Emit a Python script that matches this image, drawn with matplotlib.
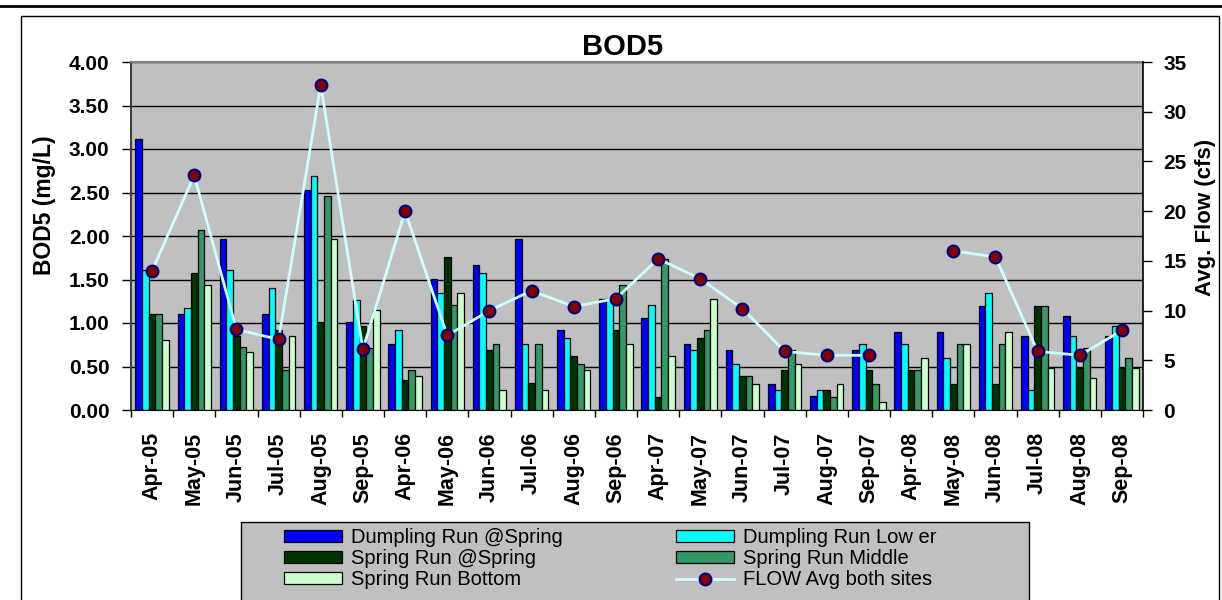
import numpy as np
import matplotlib
matplotlib.use("Agg")
import matplotlib.pyplot as plt
from matplotlib.lines import Line2D
from matplotlib.patches import Rectangle
from matplotlib.ticker import FixedLocator, FuncFormatter

plt.rcParams['font.family'] = ['Liberation Sans', 'DejaVu Sans']

months = ["Apr-05", "May-05", "Jun-05", "Jul-05", "Aug-05", "Sep-05",
          "Apr-06", "May-06", "Jun-06", "Jul-06", "Aug-06", "Sep-06",
          "Apr-07", "May-07", "Jun-07", "Jul-07", "Aug-07", "Sep-07",
          "Apr-08", "May-08", "Jun-08", "Jul-08", "Aug-08", "Sep-08"]

dumpling_spring = [3.12, 1.10, 1.97, 1.10, 2.53, 1.01, 0.76, 1.51, 1.67, 1.97, 0.92, 1.28,
                   1.06, 0.76, 0.69, 0.30, 0.16, 0.69, 0.90, 0.90, 1.19, 0.85, 1.08, 0.85]
dumpling_lower = [1.61, 1.17, 1.61, 1.40, 2.69, 1.26, 0.92, 1.35, 1.58, 0.76, 0.83, 1.28,
                  1.21, 0.69, 0.53, 0.23, 0.23, 0.76, 0.76, 0.60, 1.35, 0.23, 0.85, 0.96]
spring_spring = [1.10, 1.58, 0.85, 0.92, 1.01, 0.96, 0.34, 1.76, 0.69, 0.31, 0.62, 0.92,
                 0.15, 0.83, 0.39, 0.46, 0.23, 0.46, 0.46, 0.30, 0.30, 1.19, 0.48, 0.48]
spring_middle = [1.10, 2.07, 0.72, 0.46, 2.46, 0.71, 0.46, 1.21, 0.76, 0.76, 0.53, 1.44,
                 1.73, 0.92, 0.39, 0.69, 0.15, 0.30, 0.46, 0.76, 0.76, 1.19, 0.71, 0.60]
spring_bottom = [0.80, 1.44, 0.67, 0.85, 1.97, 1.15, 0.39, 1.35, 0.23, 0.23, 0.46, 0.76,
                 0.62, 1.28, 0.30, 0.53, 0.30, 0.09, 0.60, 0.76, 0.90, 0.48, 0.37, 0.48]
flow_avg = [14.0, 23.6, 8.1, 7.1, 32.7, 6.1, 20.0, 7.5, 10.0, 12.0, 10.4, 11.2,
            15.2, 13.2, 10.2, 5.9, 5.5, 5.5, np.nan, 16.0, 15.4, 5.9, 5.5, 8.0]

series_labels = ["Dumpling Run @Spring", "Dumpling Run Low er", "Spring Run @Spring",
                 "Spring Run Middle", "Spring Run Bottom"]
flow_label = "FLOW Avg both sites"
series_colors = ["#0000FF", "#00FFFF", "#003300", "#339966", "#CCFFCC"]

W, H = 1222, 600
fig = plt.figure(figsize=(W / 100, H / 100), dpi=100)

def fx(px):
    return px / W

def fy(py):
    return 1 - py / H

# outer decorations
fig.add_artist(Line2D([0, 1], [fy(5.5), fy(5.5)], transform=fig.transFigure,
                      color='black', lw=2.0))
fig.add_artist(Rectangle((fx(21), fy(640)), fx(1219) - fx(21), fy(16) - fy(640),
                         transform=fig.transFigure, facecolor='none',
                         edgecolor='black', lw=1.0))

ax_l, ax_r, ax_t, ax_b = 131, 1143, 62, 410
ax = fig.add_axes([fx(ax_l), fy(ax_b), fx(ax_r) - fx(ax_l), fy(ax_t) - fy(ax_b)])
ax.set_facecolor('#C0C0C0')

x = np.arange(len(months))
bw = 0.158
all_series = [dumpling_spring, dumpling_lower, spring_spring, spring_middle, spring_bottom]
bars = []
for i, (vals, col, lab) in enumerate(zip(all_series, series_colors, series_labels)):
    b = ax.bar(x + (i - 2) * bw, vals, width=bw, color=col, edgecolor='black',
               linewidth=0.9, label=lab, zorder=2)
    bars.append(b)

ax.set_xlim(-0.5, len(months) - 0.5)
ax.set_ylim(0, 4.0)
ax.set_yticks(np.arange(0, 4.01, 0.5))
ax.yaxis.set_major_formatter(FuncFormatter(lambda v, p: f"{v:.2f}"))
ax.yaxis.grid(True, color='black', lw=1.0, zorder=1)
ax.set_axisbelow(True)

ax.set_xticks(x)
ax.set_xticklabels(months, rotation=90, fontsize=15.5, fontweight='bold',
                   ha='center', va='top')
ax.xaxis.set_minor_locator(FixedLocator(np.arange(-0.5, len(months), 1.0)))
ax.tick_params(axis='x', which='major', length=0, pad=16)
ax.tick_params(axis='x', which='minor', length=5, width=1, color='black')
ax.tick_params(axis='y', which='major', length=6.5, width=1, direction='out',
               labelsize=15, pad=9)
for t in ax.get_yticklabels():
    t.set_fontweight('bold')

ax.spines['top'].set_color('#808080')
ax.spines['top'].set_linewidth(1.5)
ax.spines['left'].set_color('#404040')
ax.spines['left'].set_linewidth(1.5)
ax.spines['bottom'].set_color('black')
ax.spines['right'].set_visible(False)

ax2 = ax.twinx()
ax2.set_ylim(0, 35)
ax2.set_yticks(np.arange(0, 36, 5))
ax2.tick_params(axis='y', length=6.5, width=1, direction='out', labelsize=15, pad=8)
for t in ax2.get_yticklabels():
    t.set_fontweight('bold')
for s in ['left', 'bottom', 'top']:
    ax2.spines[s].set_visible(False)
ax2.spines['right'].set_color('black')
ax2.spines['right'].set_linewidth(1.2)
flow_line, = ax2.plot(x, flow_avg, color='#CCFFFF', lw=2.0, marker='o', ms=8.5,
                      mfc='#800000', mec='#000080', mew=1.5, label=flow_label, zorder=3)

# titles and axis labels
fig.text(fx(623), fy(55), "BOD5", ha='center', va='baseline', fontsize=21,
         fontweight='bold')
fig.text(fx(44), fy(205), "BOD5 (mg/L)", rotation=90, ha='center', va='center',
         fontsize=16.5, fontweight='bold')
fig.text(fx(1206), fy(217), "Avg. Flow (cfs)", rotation=90, ha='center', va='center',
         fontsize=16, fontweight='bold')

# legend
fig.add_artist(Rectangle((fx(241), fy(640)), fx(1029) - fx(241), fy(522) - fy(640),
                         transform=fig.transFigure, facecolor='#C0C0C0',
                         edgecolor='black', lw=1.0))
handles = [bars[0], bars[2], bars[4], bars[1], bars[3], flow_line]
labels = [series_labels[0], series_labels[2], series_labels[4],
          series_labels[1], series_labels[3], flow_label]
leg = fig.legend(handles, labels, ncol=2, loc='upper left',
                 bbox_to_anchor=(fx(284), fy(528)), frameon=False, fontsize=14.5,
                 handlelength=2.9, handleheight=0.5, handletextpad=0.45,
                 labelspacing=0.1, columnspacing=5.6, borderpad=0, borderaxespad=0)

fig.savefig("out.png", dpi=100)
